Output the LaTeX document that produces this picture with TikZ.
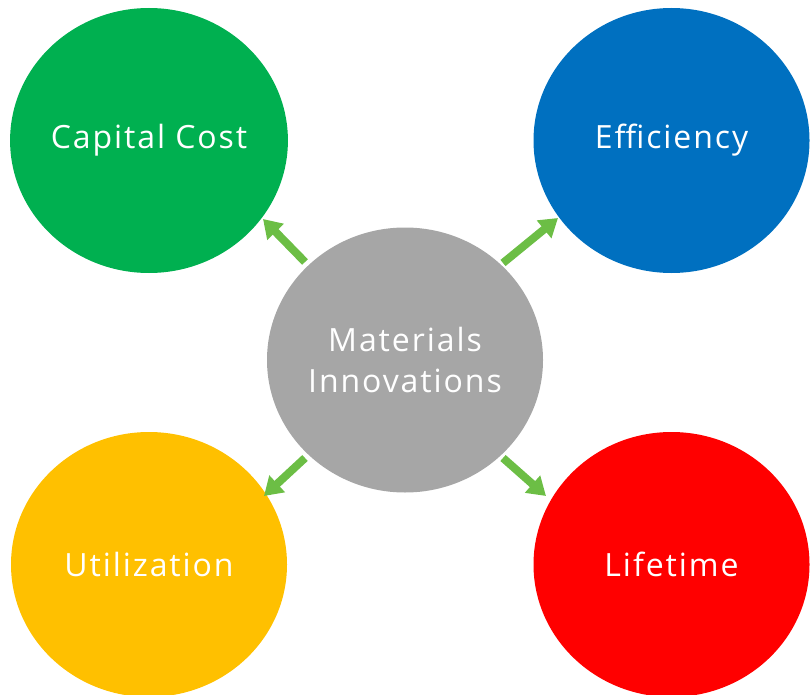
\documentclass[tikz,border=0pt]{standalone}
\usepackage{fontspec}
\setmainfont{Open Sans}[LetterSpace=6]
\usetikzlibrary{shapes.geometric,arrows.meta}
\definecolor{cgreen}{HTML}{00B050}
\definecolor{cblue}{HTML}{0070C0}
\definecolor{cgray}{HTML}{A6A6A6}
\definecolor{cyellow}{HTML}{FFC000}
\definecolor{cred}{HTML}{FF0000}
\definecolor{carrow}{HTML}{6CBE45}
\tikzset{
  bubble/.style={ellipse, minimum width=276pt, minimum height=265pt, inner sep=0pt,
    text=white, font=\fontsize{32}{41}\selectfont, align=center},
  link/.style={draw=carrow, line width=8pt, -{Triangle[width=22pt,length=18pt]}}
}
\begin{document}
\begin{tikzpicture}[x=1pt,y=-1pt]
\useasboundingbox (0,0) rectangle (810,695);
\clip (0,0) rectangle (810,695);
\node[bubble, fill=cgreen] (cap) at (149,140.5) {Capital Cost};
\node[bubble, fill=cblue] (eff) at (671.5,140.5) {Efficiency};
\node[bubble, fill=cyellow] (uti) at (149,564.5) {Utilization};
\node[bubble, fill=cred] (life) at (671.5,564.5) {Lifetime};
\node[bubble, fill=cgray] (mat) at (405,360) {Materials\\Innovations};
\coordinate (t1) at (305,262); \coordinate (h1) at (263,219);
\coordinate (t2) at (503,263); \coordinate (h2) at (558,218);
\coordinate (t3) at (305,458); \coordinate (h3) at (264,496);
\coordinate (t4) at (503,458); \coordinate (h4) at (546,496);
\draw[link] (t1) -- (h1);
\draw[link] (t2) -- (h2);
\draw[link] (t3) -- (h3);
\draw[link] (t4) -- (h4);
\end{tikzpicture}
\end{document}
